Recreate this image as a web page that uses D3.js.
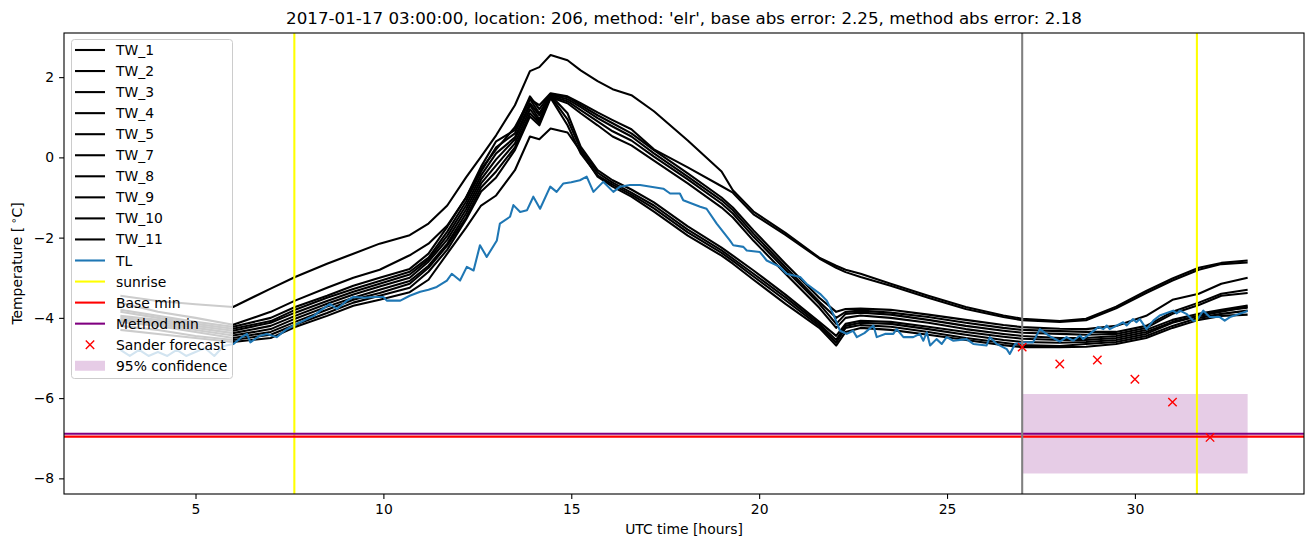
<!DOCTYPE html>
<html>
<head>
<meta charset="utf-8">
<script src="https://cdn.jsdelivr.net/npm/d3@7"></script>
<style>
	body { margin: 0; background: #ffffff; }
	svg text { font-family: "DejaVu Sans", sans-serif; fill: #000000; }
</style>
</head>
<body>
<div id="div_id_main"></div>
<script>

// ---------------------------------------------------------------
// data

const g_vHours = [3, 4, 5, 6, 7, 7.65, 8.5, 9.2, 9.9, 10.7,
				11.2, 11.7, 12.2, 12.6, 13.0, 13.5, 13.9, 14.15, 14.45, 14.9,
				15.25, 15.7, 16.1, 16.6, 17.2, 18.1, 19.0, 19.3, 19.85, 20.7,
				21.6, 22.05, 22.3, 22.7, 23.5, 24.5, 25.5, 26.5, 27.0, 28.0,
				28.7, 29.5, 30.3, 31.0, 31.7, 32.3, 33.0];

const g_vTW_Names = ["TW_1", "TW_2", "TW_3", "TW_4", "TW_5", "TW_7", "TW_8", "TW_9", "TW_10", "TW_11"];

const g_vTW_1 = [-3.45, -3.58, -3.66, -3.73, -3.27, -2.98, -2.65, -2.4, -2.15, -1.94,
				-1.65, -1.2, -0.5, 0.02, 0.55, 1.3, 2.15, 2.25, 2.55, 2.42,
				2.17, 1.9, 1.7, 1.55, 1.15, 0.42, -0.35, -0.82, -1.35, -1.88,
				-2.5, -2.7, -2.8, -2.9, -3.15, -3.45, -3.73, -3.94, -4.02, -4.08,
				-4.02, -3.72, -3.33, -3.02, -2.75, -2.63, -2.57];

const g_vTW_2 = [-3.62, -3.85, -4.0, -4.17, -3.85, -3.57, -3.25, -3.0, -2.8, -2.44,
				-2.15, -1.7, -1.0, -0.3, 0.2, 0.75, 1.45, 1.3, 1.6, 1.52,
				1.35, 1.12, 0.93, 0.7, 0.2, -0.25, -0.72, -0.88, -1.42, -1.93,
				-2.52, -2.75, -2.86, -2.98, -3.2, -3.5, -3.78, -3.98, -4.06, -4.1,
				-4.06, -3.76, -3.38, -3.07, -2.8, -2.66, -2.62];

const g_vTW_3 = [-3.8, -3.95, -4.1, -4.22, -4.0, -3.73, -3.45, -3.2, -3.0, -2.78,
				-2.4, -1.73, -1.0, -0.23, 0.4, 0.68, 1.52, 1.2, 1.58, 1.5,
				1.3, 1.05, 0.85, 0.6, 0.18, -0.4, -1.0, -1.25, -1.82, -2.65,
				-3.5, -3.85, -3.78, -3.77, -3.8, -3.92, -4.05, -4.18, -4.23, -4.27,
				-4.28, -4.2, -3.95, -3.55, -3.4, -3.15, -3.0];

const g_vTW_4 = [-3.85, -4.0, -4.15, -4.27, -4.08, -3.8, -3.5, -3.28, -3.08, -2.85,
				-2.5, -1.85, -1.1, -0.35, 0.25, 0.6, 1.45, 1.1, 1.56, 1.45,
				1.25, 0.98, 0.77, 0.52, 0.1, -0.48, -1.07, -1.32, -1.9, -2.73,
				-3.6, -4.0, -3.85, -3.82, -3.87, -3.98, -4.12, -4.25, -4.3, -4.33,
				-4.35, -4.35, -4.2, -3.85, -3.62, -3.4, -3.3];

const g_vTW_5 = [-3.95, -4.05, -4.2, -4.32, -4.12, -3.87, -3.58, -3.35, -3.15, -2.92,
				-2.55, -1.95, -1.2, -0.45, 0.1, 0.5, 1.35, 1.05, 1.53, 1.4,
				1.18, 0.9, 0.65, 0.42, 0.02, -0.55, -1.15, -1.4, -1.98, -2.8,
				-3.65, -4.15, -3.9, -3.87, -3.92, -4.05, -4.2, -4.32, -4.37, -4.4,
				-4.42, -4.4, -4.25, -3.9, -3.68, -3.45, -3.38];

const g_vTW_7 = [-4.0, -4.1, -4.25, -4.38, -4.2, -3.95, -3.65, -3.42, -3.22, -3.0,
				-2.6, -2.05, -1.3, -0.55, -0.05, 0.45, 1.3, 0.95, 1.5, 1.35,
				1.1, 0.8, 0.52, 0.3, -0.08, -0.65, -1.25, -1.5, -2.08, -2.9,
				-3.75, -4.25, -4.0, -3.94, -4.0, -4.12, -4.28, -4.4, -4.45, -4.5,
				-4.5, -4.45, -4.3, -4.05, -3.9, -3.8, -3.69];

const g_vTW_8 = [-4.05, -4.15, -4.3, -4.44, -4.28, -4.02, -3.72, -3.5, -3.3, -3.08,
				-2.7, -2.15, -1.4, -0.65, -0.2, 0.35, 1.2, 0.9, 1.55, 1.1,
				0.27, -0.32, -0.57, -0.8, -1.12, -1.72, -2.25, -2.45, -2.82, -3.42,
				-4.1, -4.45, -4.15, -4.07, -4.1, -4.22, -4.35, -4.47, -4.52, -4.55,
				-4.55, -4.5, -4.35, -4.1, -3.95, -3.82, -3.75];

const g_vTW_9 = [-4.1, -4.2, -4.35, -4.5, -4.35, -4.1, -3.8, -3.55, -3.38, -3.15,
				-2.75, -2.2, -1.5, -0.75, -0.35, 0.25, 1.1, 0.85, 1.52, 0.95,
				0.2, -0.38, -0.63, -0.88, -1.2, -1.8, -2.32, -2.52, -2.9, -3.49,
				-4.15, -4.55, -4.2, -4.12, -4.15, -4.28, -4.42, -4.55, -4.6, -4.62,
				-4.6, -4.55, -4.4, -4.12, -3.95, -3.85, -3.72];

const g_vTW_10 = [-4.2, -4.3, -4.45, -4.55, -4.42, -4.17, -3.88, -3.62, -3.45, -3.25,
				-2.85, -2.3, -1.55, -0.85, -0.5, 0.18, 1.02, 0.8, 1.48, 0.8,
				0.1, -0.45, -0.68, -0.93, -1.27, -1.87, -2.38, -2.58, -2.97, -3.56,
				-4.2, -4.62, -4.25, -4.18, -4.22, -4.35, -4.5, -4.62, -4.68, -4.7,
				-4.65, -4.6, -4.45, -4.2, -4.0, -3.9, -3.82];

const g_vTW_11 = [-4.3, -4.4, -4.5, -4.6, -4.5, -4.23, -3.95, -3.7, -3.55, -3.36,
				-3.05, -2.4, -1.75, -1.2, -0.95, -0.32, 0.52, 0.45, 0.72, 0.62,
				0.15, -0.48, -0.73, -0.98, -1.35, -1.95, -2.45, -2.65, -3.05, -3.65,
				-4.25, -4.69, -4.35, -4.25, -4.3, -4.42, -4.55, -4.68, -4.73, -4.73,
				-4.72, -4.65, -4.5, -4.25, -4.05, -3.95, -3.92];

const g_vTL_Hours = [3.0, 3.25, 3.5, 3.75, 4.0, 4.25, 4.5, 4.75, 5.0, 5.25, 5.5, 5.75,
				6.01, 6.2, 6.37, 6.46, 6.7, 6.9, 7.16, 7.4, 7.61, 7.96, 8.15, 8.32, 8.58, 8.76,
				9.03, 9.2, 9.5, 9.75, 10.0, 10.09, 10.45, 10.7, 10.98, 11.2, 11.42, 11.69, 11.82,
				12.04, 12.22, 12.4, 12.57, 12.75, 13.02, 13.1, 13.37, 13.46, 13.64, 13.82, 13.99,
				14.17, 14.44, 14.61, 14.79, 15.0, 15.23, 15.41, 15.59, 15.85, 16.12, 16.3, 16.56,
				16.83, 17.45, 17.63, 17.89, 17.98, 18.43, 18.6, 18.87, 19.22, 19.31, 19.58, 19.67,
				20.02, 20.2, 20.55, 20.73, 21.09, 21.26, 21.62, 21.8, 21.97, 22.15, 22.33, 22.5,
				22.6, 22.8, 23.04, 23.13, 23.35, 23.57, 23.66, 23.84, 24.1, 24.28, 24.37, 24.46,
				24.55, 24.72, 24.86, 24.99, 25.17, 25.52, 25.7, 26.05, 26.14, 26.32, 26.59, 26.67,
				26.81, 27.03, 27.29, 27.47, 27.74, 28.0, 28.18, 28.36, 28.54, 28.62, 28.8, 29.02,
				29.16, 29.25, 29.33, 29.69, 29.78, 29.95, 30.04, 30.13, 30.31, 30.49, 30.66, 31.02,
				31.11, 31.2, 31.37, 31.55, 31.64, 31.82, 31.99, 32.26, 32.39, 32.53, 32.79, 33.0];

const g_vTL_Temp = [-4.8, -4.95, -4.8, -4.95, -4.85, -4.95, -4.8, -4.95, -4.85, -4.75, -4.95, -4.7,
				-4.65, -4.5, -4.4, -4.61, -4.45, -4.4, -4.48, -4.3, -4.19, -4.03, -3.95, -3.82, -3.65, -3.78,
				-3.57, -3.48, -3.5, -3.48, -3.48, -3.57, -3.57, -3.45, -3.35, -3.3, -3.23, -3.07, -2.9,
				-3.07, -2.73, -2.82, -2.19, -2.48, -2.07, -1.65, -1.48, -1.19, -1.36, -1.32, -0.98,
				-1.28, -0.73, -0.86, -0.65, -0.62, -0.57, -0.48, -0.86, -0.61, -0.86, -0.73, -0.69,
				-0.69, -0.78, -0.9, -0.9, -1.07, -1.23, -1.28, -1.65, -2.07, -2.19, -2.23, -2.32,
				-2.36, -2.57, -2.73, -2.9, -2.98, -3.15, -3.4, -3.57, -3.9, -4.32, -4.4, -4.32,
				-4.48, -4.38, -4.19, -4.48, -4.4, -4.4, -4.28, -4.48, -4.48, -4.4, -4.57, -4.36,
				-4.69, -4.53, -4.65, -4.48, -4.57, -4.53, -4.65, -4.69, -4.48, -4.65, -4.78, -4.9,
				-4.65, -4.61, -4.61, -4.28, -4.46, -4.59, -4.48, -4.57, -4.44, -4.53, -4.4, -4.23,
				-4.28, -4.19, -4.28, -4.11, -4.19, -4.03, -4.11, -4.03, -4.28, -4.07, -3.94, -3.82,
				-3.89, -3.82, -3.9, -4.07, -4.07, -3.82, -3.98, -3.98, -4.07, -3.98, -3.9, -3.83];

const g_vSunrise = [7.63, 31.65];
const g_fNowHour = 27.0;
const g_fBaseMin = -6.96;
const g_fMethodMin = -6.89;

const g_vSander_Hours = [27, 28, 29, 30, 31, 32];
const g_vSander_Temp = [-4.73, -5.15, -5.05, -5.53, -6.1, -6.98];

const g_vConf_Hours = [27, 33];
const g_vConf_Low = [-7.88, -7.88];
const g_vConf_High = [-5.9, -5.9];

const g_vTicks_X = [5, 10, 15, 20, 25, 30];
const g_vTicks_Y = [-8, -6, -4, -2, 0, 2];

const TITLE_TEXT = "2017-01-17 03:00:00, location: 206, method: 'elr', base abs error: 2.25, method abs error: 2.18";

// ---------------------------------------------------------------

const SVG_WIDTH = 1313;
const SVG_HEIGHT = 547;
const PLOT_L = 64, PLOT_R = 1304, PLOT_T = 33, PLOT_B = 494;
const LINE_W = 2.08;

function funcDraw_Main() {

	let svgMain = d3.select("#div_id_main")
					.append("svg")
						.attr("id", "svg_id_main")
						.attr("width", SVG_WIDTH)
						.attr("height", SVG_HEIGHT);

	let fScale_Hour = d3.scaleLinear()
							.domain([1.5, 34.5])
							.range([PLOT_L, PLOT_R]);

	let fScale_Temp = d3.scaleLinear()
							.domain([-8.39, 3.1])
							.range([PLOT_B, PLOT_T]);

	svgMain.append("defs")
			.append("clipPath")
				.attr("id", "clip_id_plot")
			.append("rect")
				.attr("x", PLOT_L)
				.attr("y", PLOT_T)
				.attr("width", PLOT_R - PLOT_L)
				.attr("height", PLOT_B - PLOT_T);

	let gPlot = svgMain.append("g")
						.attr("clip-path", "url(#clip_id_plot)");

	let lineTemp = d3.line()
						.x(function(d) { return fScale_Hour(d[0]); })
						.y(function(d) { return fScale_Temp(d[1]); });

	// confidence band (below the lines, as in the original)
	let areaConf = d3.area()
						.x(function(d) { return fScale_Hour(d[0]); })
						.y0(function(d) { return fScale_Temp(d[1]); })
						.y1(function(d) { return fScale_Temp(d[2]); });

	gPlot.append("path")
			.datum(g_vConf_Hours.map(function(h, i) { return [h, g_vConf_Low[i], g_vConf_High[i]]; }))
			.attr("d", areaConf)
			.attr("fill", "purple")
			.attr("fill-opacity", 0.2);

	// ------------------------------------------

	let vTW_All = [g_vTW_1, g_vTW_2, g_vTW_3, g_vTW_4, g_vTW_5, g_vTW_7, g_vTW_8, g_vTW_9, g_vTW_10, g_vTW_11];

	gPlot.selectAll("path.path_class_tw")
		.data(vTW_All)
		.enter()
			.append("path")
				.attr("class", "path_class_tw")
				.attr("d", function(vTemp) { return lineTemp(g_vHours.map(function(h, i) { return [h, vTemp[i]]; })); })
				.attr("fill", "none")
				.attr("stroke", "#000000")
				.attr("stroke-width", LINE_W)
				.attr("stroke-linejoin", "round");

	gPlot.append("path")
			.datum(g_vTL_Hours.map(function(h, i) { return [h, g_vTL_Temp[i]]; }))
			.attr("d", lineTemp)
			.attr("fill", "none")
			.attr("stroke", "#1f77b4")
			.attr("stroke-width", LINE_W)
			.attr("stroke-linejoin", "round");

	gPlot.selectAll("line.line_class_sunrise")
		.data(g_vSunrise)
		.enter()
			.append("line")
				.attr("class", "line_class_sunrise")
				.attr("x1", function(h) { return fScale_Hour(h); })
				.attr("x2", function(h) { return fScale_Hour(h); })
				.attr("y1", PLOT_T)
				.attr("y2", PLOT_B)
				.attr("stroke", "#ffff00")
				.attr("stroke-width", LINE_W);

	gPlot.append("line")
			.attr("x1", PLOT_L).attr("x2", PLOT_R)
			.attr("y1", fScale_Temp(g_fBaseMin)).attr("y2", fScale_Temp(g_fBaseMin))
			.attr("stroke", "#ff0000")
			.attr("stroke-width", LINE_W);

	gPlot.append("line")
			.attr("x1", PLOT_L).attr("x2", PLOT_R)
			.attr("y1", fScale_Temp(g_fMethodMin)).attr("y2", fScale_Temp(g_fMethodMin))
			.attr("stroke", "purple")
			.attr("stroke-width", LINE_W);

	gPlot.append("line")
			.attr("x1", fScale_Hour(g_fNowHour)).attr("x2", fScale_Hour(g_fNowHour))
			.attr("y1", PLOT_T).attr("y2", PLOT_B)
			.attr("stroke", "#808080")
			.attr("stroke-width", LINE_W);

	let markerX = "M-4.2,-4.2L4.2,4.2M-4.2,4.2L4.2,-4.2";

	gPlot.selectAll("path.path_class_sander")
		.data(g_vSander_Hours)
		.enter()
			.append("path")
				.attr("class", "path_class_sander")
				.attr("transform", function(h, i) { return "translate(" + fScale_Hour(h) + "," + fScale_Temp(g_vSander_Temp[i]) + ")"; })
				.attr("d", markerX)
				.attr("stroke", "#ff0000")
				.attr("stroke-width", 1.4)
				.attr("fill", "none");

	// ------------------------------------------ axes

	let axisX = d3.axisBottom(fScale_Hour)
					.tickValues(g_vTicks_X)
					.tickFormat(d3.format("d"))
					.tickSize(4.9)
					.tickPadding(4.9)
					.tickSizeOuter(0);

	let axisY = d3.axisLeft(fScale_Temp)
					.tickValues(g_vTicks_Y)
					.tickFormat(d3.format("d"))
					.tickSize(4.9)
					.tickPadding(4.9)
					.tickSizeOuter(0);

	let gAxisX = svgMain.append("g")
						.attr("transform", "translate(0," + PLOT_B + ")")
						.call(axisX);

	let gAxisY = svgMain.append("g")
						.attr("transform", "translate(" + PLOT_L + ",0)")
						.call(axisY);

	[gAxisX, gAxisY].forEach(function(g) {
		g.select(".domain").remove();
		g.selectAll(".tick line").attr("stroke", "#000000").attr("stroke-width", 1.1);
		g.selectAll(".tick text")
			.attr("fill", "#000000")
			.style("font-family", "'DejaVu Sans', sans-serif")
			.style("font-size", "13.9px");
	});

	svgMain.append("rect")
			.attr("x", PLOT_L)
			.attr("y", PLOT_T)
			.attr("width", PLOT_R - PLOT_L)
			.attr("height", PLOT_B - PLOT_T)
			.attr("fill", "none")
			.attr("stroke", "#000000")
			.attr("stroke-width", 1.1);

	// ------------------------------------------ labels

	svgMain.append("text")
			.attr("x", (PLOT_L + PLOT_R) / 2)
			.attr("y", 24)
			.attr("text-anchor", "middle")
			.style("font-size", "16.7px")
			.text(TITLE_TEXT);

	svgMain.append("text")
			.attr("x", (PLOT_L + PLOT_R) / 2)
			.attr("y", 534)
			.attr("text-anchor", "middle")
			.style("font-size", "13.9px")
			.text("UTC time [hours]");

	let textY = svgMain.append("text")
			.attr("transform", "translate(22," + ((PLOT_T + PLOT_B) / 2) + ") rotate(-90)")
			.attr("text-anchor", "middle")
			.style("font-size", "13.9px");

	textY.append("tspan").text("Temperature [");
	textY.append("tspan").attr("dx", 3).attr("dy", -5).style("font-size", "10px").text("\u2218");
	textY.append("tspan").attr("dy", 5).text("C]");

	funcDraw_Legend(svgMain);
}

function funcDraw_Legend(svgMain) {

	let vEntries = [];

	g_vTW_Names.forEach(function(s) { vEntries.push({ label: s, type: "line", color: "#000000" }); });

	vEntries.push({ label: "TL", type: "line", color: "#1f77b4" });
	vEntries.push({ label: "sunrise", type: "line", color: "#ffff00" });
	vEntries.push({ label: "Base min", type: "line", color: "#ff0000" });
	vEntries.push({ label: "Method min", type: "line", color: "purple" });
	vEntries.push({ label: "Sander forecast", type: "marker", color: "#ff0000" });
	vEntries.push({ label: "95% confidence", type: "patch", color: "purple" });

	let gLegend = svgMain.append("g").attr("id", "g_id_legend");

	gLegend.append("rect")
			.attr("x", 71.5)
			.attr("y", 39.5)
			.attr("width", 161)
			.attr("height", 339)
			.attr("rx", 3)
			.attr("fill", "#ffffff")
			.attr("fill-opacity", 0.8)
			.attr("stroke", "#cccccc")
			.attr("stroke-width", 1);

	let fScale_Row = d3.scaleLinear()
						.domain([0, vEntries.length - 1])
						.range([50, 50 + 21.05 * (vEntries.length - 1)]);

	let gRows = gLegend.selectAll("g.g_class_legend_row")
					.data(vEntries)
					.enter()
						.append("g")
							.attr("class", "g_class_legend_row")
							.attr("transform", function(d, i) { return "translate(0," + fScale_Row(i) + ")"; });

	gRows.filter(function(d) { return d.type == "line"; })
		.append("line")
			.attr("x1", 75).attr("x2", 105)
			.attr("y1", 0).attr("y2", 0)
			.attr("stroke", function(d) { return d.color; })
			.attr("stroke-width", LINE_W);

	gRows.filter(function(d) { return d.type == "marker"; })
		.append("path")
			.attr("transform", "translate(90,0)")
			.attr("d", "M-4.2,-4.2L4.2,4.2M-4.2,4.2L4.2,-4.2")
			.attr("stroke", function(d) { return d.color; })
			.attr("stroke-width", 1.4);

	gRows.filter(function(d) { return d.type == "patch"; })
		.append("rect")
			.attr("x", 75).attr("y", -5)
			.attr("width", 30).attr("height", 10)
			.attr("fill", function(d) { return d.color; })
			.attr("fill-opacity", 0.2);

	gRows.append("text")
			.attr("x", 116)
			.attr("y", 5)
			.style("font-size", "13.9px")
			.text(function(d) { return d.label; });
}

funcDraw_Main();

</script>
</body>
</html>
